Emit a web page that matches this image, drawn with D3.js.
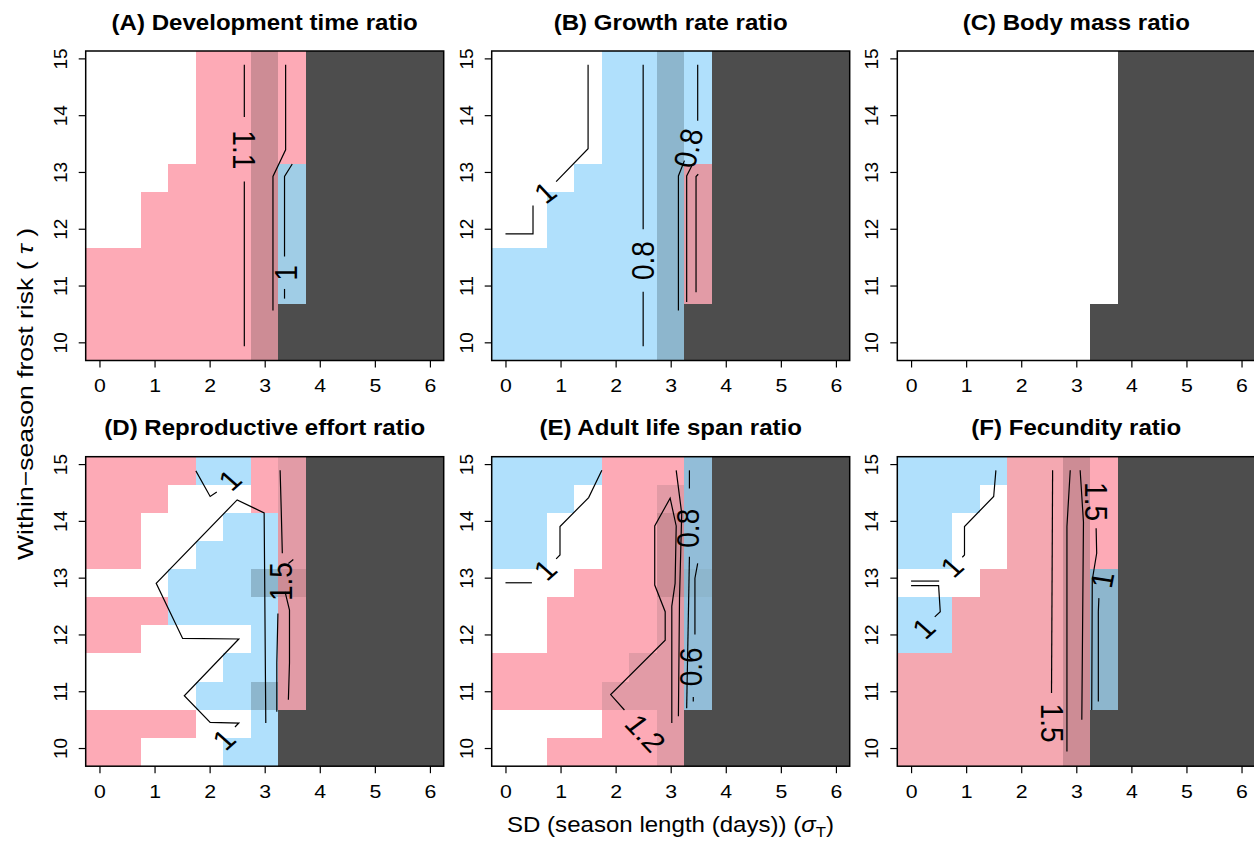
<!DOCTYPE html>
<html>
<head>
<meta charset="utf-8">
<script src="https://cdn.jsdelivr.net/npm/d3@7/dist/d3.min.js"></script>
<style>
  body { margin: 0; background: #fff; }
  text { font-family: "Liberation Sans", Arial, Helvetica, sans-serif; }
</style>
</head>
<body>
<div id="chart"></div>
<script>
// ---- data -------------------------------------------------------------
var sdValues  = [0, 0.5, 1, 1.5, 2, 2.5, 3, 3.5, 4, 4.5, 5, 5.5, 6];
var tauValues = [9.93, 10.43, 10.92, 11.42, 11.91, 12.41, 12.9, 13.39, 13.89, 14.38, 14.88];
var xTicks = [0, 1, 2, 3, 4, 5, 6];
var yTicks = [10, 11, 12, 13, 14, 15];

var panelTitles = ["(A) Development time ratio", "(B) Growth rate ratio", "(C) Body mass ratio",
                   "(D) Reproductive effort ratio", "(E) Adult life span ratio", "(F) Fecundity ratio"];

// cell classes: w none, p/q/r/s ratio > 1 (light..dark), b/c/d/e ratio < 1, n not viable
var cellColors = { w: "#ffffff", p: "#fdaab6", q: "#f4a8b1", r: "#e29ba6", s: "#cd8c95",
                   b: "#b0e0fc", c: "#a0cde6", d: "#8db6cd", e: "#92bdd8", n: "#4d4d4d" };

// one string per tau row, top row (tau = 14.88) first, one char per sd column
var gridA = ["wwwwppspnnnnn", "wwwwppspnnnnn", "wwwwppspnnnnn", "wwwwppspnnnnn", "wwwpppscnnnnn",
             "wwppppscnnnnn", "wwppppscnnnnn", "ppppppscnnnnn", "ppppppscnnnnn", "ppppppsnnnnnn", "ppppppsnnnnnn"];
var gridB = ["wwwwbbdbnnnnn", "wwwwbbdbnnnnn", "wwwwbbdbnnnnn", "wwwwbbdbnnnnn", "wwwbbbdrnnnnn",
             "wwbbbbdrnnnnn", "wwbbbbdrnnnnn", "bbbbbbdrnnnnn", "bbbbbbdrnnnnn", "bbbbbbdnnnnnn", "bbbbbbdnnnnnn"];
var gridC = ["wwwwwwwwnnnnn", "wwwwwwwwnnnnn", "wwwwwwwwnnnnn", "wwwwwwwwnnnnn", "wwwwwwwwnnnnn",
             "wwwwwwwwnnnnn", "wwwwwwwwnnnnn", "wwwwwwwwnnnnn", "wwwwwwwwnnnnn", "wwwwwwwnnnnnn", "wwwwwwwnnnnnn"];
var gridD = ["ppppbbprnnnnn", "pppwwwprnnnnn", "ppwwwbbrnnnnn", "ppwwbbbrnnnnn", "wwwbbbdsnnnnn",
             "pppbbbbrnnnnn", "ppwwwwbrnnnnn", "wwwwwbbrnnnnn", "wwwwbbdrnnnnn", "ppppwwbnnnnnn", "ppwwwbbnnnnnn"];
var gridE = ["bbbbpppennnnn", "bbbwpprennnnn", "bbwwppsennnnn", "bbwwppsennnnn", "wwwpppsdnnnnn",
             "wwpppprennnnn", "wwpppprennnnn", "ppppprrennnnn", "pppprrrennnnn", "wwwwpprnnnnnn", "wwpppprnnnnnn"];
var gridF = ["bbbbqqspnnnnn", "bbbwqqspnnnnn", "bbwwqqspnnnnn", "bbwwqqspnnnnn", "wwwqqqsdnnnnn",
             "bbqqqqsdnnnnn", "bbqqqqsdnnnnn", "qqqqqqsdnnnnn", "qqqqqqsdnnnnn", "qqqqqqsnnnnnn", "qqqqqqsnnnnnn"];

// contour lines, points as [sd, tau]
var linesA = [
  [[2.63, 14.89], [2.63, 13.97]],
  [[2.63, 12.83], [2.63, 9.93]],
  [[3.38, 14.89], [3.38, 13.39], [3.15, 12.92], [3.15, 10.56]],
  [[3.5, 13.14], [3.36, 12.92], [3.36, 11.51]],
  [[3.36, 10.94], [3.36, 10.77]]
];
var linesB = [
  [[0, 11.91], [0.5, 11.91], [0.5, 12.41]],
  [[0.92, 12.83], [1.5, 13.41], [1.5, 14.89]],
  [[2.5, 14.89], [2.5, 11.99]],
  [[2.5, 10.89], [2.5, 9.93]],
  [[3.14, 10.56], [3.14, 12.93], [3.25, 13.2]],
  [[3.29, 10.71], [3.29, 12.93], [3.4, 13.14]],
  [[3.46, 10.88], [3.46, 12.92], [3.5, 12.96]],
  [[3.49, 14.89], [3.49, 13.9]]
];
var linesC = [];
var linesD = [
  [[1.75, 14.88], [2.01, 14.43], [2.13, 14.51]],
  [[2.46, 10.37], [2.53, 10.44], [2.01, 10.45], [1.54, 10.92], [2.53, 11.92], [1.51, 11.93],
   [1.03, 12.9], [2.5, 14.37], [2.99, 14.14], [3.02, 10.44]],
  [[3.28, 14.89], [3.3, 14.2], [3.32, 13.43]],
  [[3.37, 12.75], [3.45, 12.43], [3.45, 11.5], [3.43, 10.85]],
  [[3.24, 12.37], [3.22, 11.5], [3.22, 10.64]],
  [[3.43, 13.25], [3.52, 13.32]]
];
var linesE = [
  [[1.75, 14.89], [1.51, 14.41], [0.99, 13.9], [0.99, 13.4], [0.92, 13.33]],
  [[0.48, 12.91], [0, 12.91]],
  [[2.16, 10.67], [1.91, 10.94], [2.9, 11.9], [2.9, 12.4], [2.71, 12.87], [2.71, 13.91],
   [2.99, 14.4], [3.1, 13.91], [3.08, 12.9], [3.02, 12.5], [3.02, 10.44]],
  [[3.1, 14.89], [3.2, 14.13], [3.16, 12.64], [3.14, 10.56]],
  [[3.34, 13.37], [3.29, 10.7]],
  [[3.34, 14.89], [3.34, 14.57]],
  [[3.49, 13.25], [3.44, 12.99], [3.44, 12.0]],
  [[3.41, 10.9], [3.41, 10.82]]
];
var linesF = [
  [[1.54, 14.89], [1.5, 14.43], [0.97, 13.9], [0.97, 13.4], [0.93, 13.36]],
  [[0, 12.94], [0.51, 12.94]],
  [[0, 12.86], [0.5, 12.86], [0.53, 12.4], [0.43, 12.31]],
  [[2.57, 14.89], [2.55, 10.97]],
  [[2.89, 14.89], [2.83, 13.9], [2.83, 9.94]],
  [[3.07, 14.89], [3.13, 13.98], [3.1, 10.5]],
  [[3.36, 13.87], [3.37, 13.43], [3.29, 12.96], [3.28, 10.67]],
  [[3.41, 12.64], [3.4, 12.4], [3.4, 10.82]]
];

// contour labels: [sd, tau, text, angle]
var labelsA = [[2.63, 13.39, "1.1", 90], [3.38, 11.22, "1", -90]];
var labelsB = [[0.72, 12.64, "1", -40], [2.5, 11.44, "0.8", -90], [3.32, 13.42, "0.8", -78]];
var labelsC = [];
var labelsD = [[2.37, 14.72, "1", -45], [2.26, 10.15, "1", -45], [3.29, 12.93, "1.5", -90]];
var labelsE = [[0.72, 13.14, "1", -45], [2.54, 10.26, "1.2", 50], [3.32, 13.87, "0.8", -90], [3.37, 11.43, "0.6", -90]];
var labelsF = [[0.74, 13.19, "1", -45], [0.23, 12.11, "1", -45], [2.56, 10.44, "1.5", 90],
               [3.35, 14.34, "1.5", 90], [3.47, 12.96, "1", -80]];

var grids  = [gridA, gridB, gridC, gridD, gridE, gridF];
var lines  = [linesA, linesB, linesC, linesD, linesE, linesF];
var labels = [labelsA, labelsB, labelsC, labelsD, labelsE, labelsF];

// ---- layout -----------------------------------------------------------
var lefts = [85.7, 491.7, 897.3], tops = [51, 456.7];
var W = 358, H = 309.5, SX = 1.12;

var svg = d3.select("#chart").append("svg")
    .attr("width", 1254).attr("height", 841);

// cell edges along tau, like R's image()
var edges = tauValues.map(function (t, i) {
  return i === 0 ? t - (tauValues[1] - t) / 2 : (tauValues[i - 1] + t) / 2;
});
edges.push(tauValues[tauValues.length - 1] + (tauValues[tauValues.length - 1] - tauValues[tauValues.length - 2]) / 2);
var half = (sdValues[1] - sdValues[0]) / 2;

panelTitles.forEach(function (title, k) {
  var left = lefts[k % 3], top = tops[Math.floor(k / 3)];
  var x = d3.scaleLinear().domain([sdValues[0] - half, sdValues[sdValues.length - 1] + half]).range([left, left + W]);
  var y = d3.scaleLinear().domain([edges[0], edges[edges.length - 1]]).range([top + H, top]);
  var g = svg.append("g");

  var cells = [];
  grids[k].forEach(function (row, r) {
    var ti = tauValues.length - 1 - r;
    row.split("").forEach(function (code, c) {
      cells.push({ sd: sdValues[c], ti: ti, code: code });
    });
  });

  g.selectAll("rect.cell").data(cells).join("rect")
      .attr("class", "cell")
      .attr("x", function (d) { return x(d.sd - half); })
      .attr("width", function (d) { return x(d.sd + half) - x(d.sd - half); })
      .attr("y", function (d) { return y(edges[d.ti + 1]); })
      .attr("height", function (d) { return y(edges[d.ti]) - y(edges[d.ti + 1]); })
      .attr("fill", function (d) { return cellColors[d.code]; })
      .attr("shape-rendering", "crispEdges");

  var line = d3.line().x(function (d) { return x(d[0]); }).y(function (d) { return y(d[1]); });
  g.selectAll("path.contour").data(lines[k]).join("path")
      .attr("class", "contour")
      .attr("d", line)
      .attr("fill", "none")
      .attr("stroke", "#000")
      .attr("stroke-width", 1.2);

  g.selectAll("text.clab").data(labels[k]).join("text")
      .attr("class", "clab")
      .attr("transform", function (d) {
        return "translate(" + x(d[0]) + "," + y(d[1]) + ") scale(" + SX + ",1) rotate(" + d[3] + ")";
      })
      .attr("text-anchor", "middle")
      .attr("dy", "0.35em")
      .attr("font-size", 28)
      .text(function (d) { return d[2]; });

  // box
  g.append("rect")
      .attr("x", left).attr("y", top).attr("width", W).attr("height", H)
      .attr("fill", "none").attr("stroke", "#000").attr("stroke-width", 1.5);

  // axes
  var gx = g.append("g")
      .attr("transform", "translate(0," + (top + H) + ")")
      .call(d3.axisBottom(x).tickValues(xTicks).tickFormat(d3.format("d")).tickSize(7).tickPadding(11));
  var gy = g.append("g")
      .attr("transform", "translate(" + left + ",0)")
      .call(d3.axisLeft(y).tickValues(yTicks).tickFormat(d3.format("d")).tickSize(7));
  [gx, gy].forEach(function (a) {
    a.select(".domain").remove();
    a.selectAll("line").attr("stroke", "#000").attr("stroke-width", 1.2);
    a.selectAll("text").attr("font-size", 19).attr("fill", "#000")
        .attr("font-family", "'Liberation Sans', Arial, sans-serif");
  });
  gx.selectAll("text").attr("transform", "scale(" + SX + ",1)");
  gy.selectAll("text")
      .attr("transform", "rotate(-90)")
      .attr("x", 0).attr("y", -25.7).attr("dy", "0.35em")
      .attr("text-anchor", "middle");

  // title
  svg.append("text")
      .attr("transform", "translate(" + (left + W / 2) + "," + (top - 21.5) + ") scale(" + SX + ",1)")
      .attr("text-anchor", "middle")
      .attr("font-size", 21.5)
      .attr("font-weight", "bold")
      .text(title);
});

// axis titles
var xl = svg.append("text")
    .attr("transform", "translate(670.5,832) scale(" + SX + ",1)")
    .attr("text-anchor", "middle")
    .attr("font-size", 21.5);
xl.append("tspan").text("SD (season length (days)) (");
xl.append("tspan").attr("font-style", "italic").text("σ");
xl.append("tspan").attr("font-size", 15).attr("dy", 5).text("T");
xl.append("tspan").attr("dy", -5).text(")");

var yl = svg.append("text")
    .attr("transform", "translate(25.5,394) rotate(-90)")
    .attr("text-anchor", "middle")
    .attr("dy", "0.35em")
    .attr("font-size", 21.5)
    .attr("textLength", 332)
    .attr("lengthAdjust", "spacingAndGlyphs");
yl.append("tspan").text("Within\u2212season frost risk ( ");
yl.append("tspan").attr("font-style", "italic").text("τ");
yl.append("tspan").text(" )");
</script>
</body>
</html>
